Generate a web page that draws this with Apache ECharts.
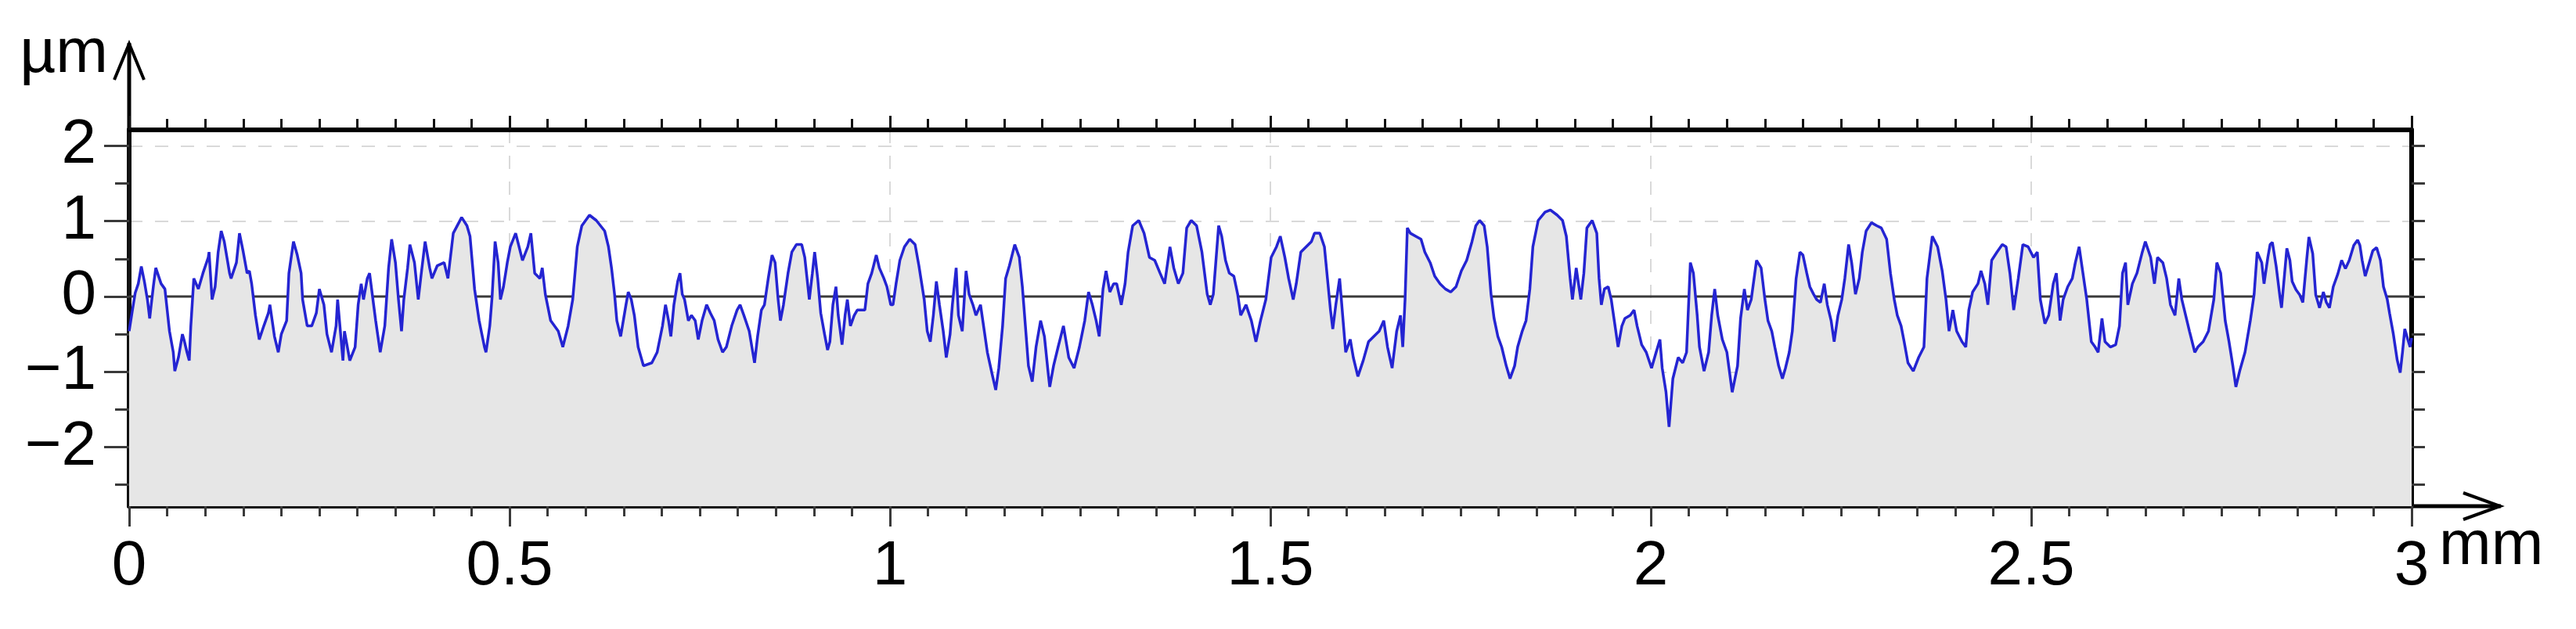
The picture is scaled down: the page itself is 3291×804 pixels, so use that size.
<!DOCTYPE html>
<html>
<head>
<meta charset="utf-8">
<title>Surface profile</title>
<script src="https://cdn.jsdelivr.net/npm/echarts@6.0.0/dist/echarts.min.js"></script>
<style>
  html, body { margin: 0; padding: 0; background: #fff; }
  #chart { width: 3291px; height: 804px; }
</style>
</head>
<body>
<div id="chart"></div>
<script>
// profile: [distance (mm), height (µm)]
const profilePoints = [
  [0.000,-0.46],[0.004,-0.20],[0.008,0.05],[0.012,0.17],[0.016,0.40],[0.020,0.20],[0.024,-0.04],[0.027,-0.29],[0.029,-0.11],[0.032,0.15],
  [0.035,0.38],[0.042,0.17],[0.047,0.10],[0.053,-0.46],[0.058,-0.74],[0.060,-0.99],[0.065,-0.80],[0.070,-0.50],[0.072,-0.57],[0.076,-0.74],
  [0.079,-0.85],[0.081,-0.40],[0.085,0.24],[0.088,0.17],[0.091,0.10],[0.097,0.31],[0.104,0.52],[0.105,0.59],[0.109,-0.04],[0.113,0.13],
  [0.117,0.59],[0.121,0.87],[0.125,0.73],[0.132,0.31],[0.134,0.24],[0.141,0.45],[0.145,0.84],[0.150,0.59],[0.155,0.31],[0.158,0.34],
  [0.161,0.17],[0.166,-0.25],[0.171,-0.57],[0.177,-0.39],[0.183,-0.22],[0.185,-0.11],[0.188,-0.32],[0.191,-0.53],[0.196,-0.74],[0.200,-0.50],
  [0.207,-0.32],[0.210,0.31],[0.216,0.73],[0.221,0.55],[0.226,0.31],[0.228,-0.04],[0.234,-0.39],[0.240,-0.39],[0.246,-0.22],[0.250,0.10],
  [0.256,-0.11],[0.260,-0.50],[0.266,-0.74],[0.272,-0.39],[0.274,-0.04],[0.281,-0.85],[0.283,-0.46],[0.290,-0.85],[0.297,-0.67],[0.301,-0.11],
  [0.305,0.17],[0.308,-0.04],[0.313,0.24],[0.316,0.31],[0.324,-0.32],[0.330,-0.74],[0.336,-0.39],[0.341,0.38],[0.345,0.76],[0.350,0.45],
  [0.354,-0.04],[0.358,-0.46],[0.361,-0.04],[0.366,0.38],[0.369,0.69],[0.375,0.45],[0.380,-0.04],[0.384,0.31],[0.389,0.73],[0.395,0.38],
  [0.398,0.24],[0.405,0.41],[0.414,0.45],[0.419,0.24],[0.426,0.84],[0.437,1.05],[0.444,0.94],[0.448,0.80],[0.454,0.10],[0.460,-0.32],
  [0.467,-0.67],[0.469,-0.74],[0.474,-0.39],[0.477,-0.01],[0.481,0.73],[0.485,0.45],[0.488,-0.04],[0.492,0.13],[0.497,0.45],[0.501,0.66],
  [0.508,0.84],[0.517,0.48],[0.524,0.66],[0.528,0.84],[0.533,0.31],[0.540,0.24],[0.543,0.38],[0.547,0.03],[0.554,-0.32],[0.559,-0.39],
  [0.564,-0.46],[0.570,-0.67],[0.577,-0.39],[0.583,-0.04],[0.589,0.66],[0.595,0.94],[0.605,1.08],[0.614,1.01],[0.625,0.87],[0.630,0.66],
  [0.634,0.38],[0.638,0.03],[0.641,-0.32],[0.646,-0.53],[0.653,-0.11],[0.656,0.06],[0.660,-0.04],[0.664,-0.25],[0.669,-0.67],[0.676,-0.92],
  [0.687,-0.88],[0.694,-0.74],[0.701,-0.39],
  [0.705,-0.11],[0.709,-0.32],[0.712,-0.53],[0.716,-0.11],[0.721,0.20],[0.724,0.31],[0.727,0.03],[0.730,-0.04],[0.735,-0.32],[0.739,-0.25],
  [0.744,-0.32],[0.748,-0.57],[0.753,-0.32],[0.759,-0.11],[0.764,-0.22],[0.769,-0.32],[0.774,-0.57],[0.780,-0.74],[0.785,-0.67],[0.792,-0.39],
  [0.799,-0.18],[0.803,-0.11],[0.808,-0.25],[0.815,-0.46],[0.822,-0.88],[0.826,-0.53],[0.831,-0.18],[0.835,-0.11],[0.840,0.24],[0.845,0.55],
  [0.849,0.45],[0.853,-0.04],[0.856,-0.32],[0.860,-0.11],[0.866,0.31],[0.871,0.59],[0.877,0.69],[0.884,0.69],[0.888,0.52],[0.894,-0.04],
  [0.898,0.31],[0.901,0.59],[0.905,0.24],[0.909,-0.22],[0.914,-0.50],[0.918,-0.71],[0.921,-0.60],[0.925,-0.11],[0.929,0.13],[0.932,-0.25],
  [0.937,-0.64],[0.941,-0.25],[0.944,-0.04],[0.948,-0.39],[0.953,-0.25],[0.957,-0.18],[0.962,-0.18],[0.967,-0.18],[0.971,0.17],[0.976,0.31],
  [0.982,0.55],[0.986,0.38],[0.992,0.24],[0.996,0.13],[1.001,-0.11],[1.004,-0.11],[1.008,0.17],[1.013,0.48],[1.019,0.66],[1.026,0.76],
  [1.033,0.69],[1.038,0.41],[1.045,-0.04],[1.049,-0.46],[1.053,-0.60],[1.057,-0.25],[1.061,0.20],[1.065,-0.11],[1.070,-0.46],[1.074,-0.81],
  [1.079,-0.50],[1.082,-0.11],[1.087,0.38],[1.090,-0.25],[1.095,-0.46],[1.100,0.34],[1.104,0.03],[1.109,-0.11],[1.113,-0.25],[1.119,-0.11],
  [1.124,-0.46],[1.128,-0.74],[1.134,-1.02],[1.139,-1.24],[1.143,-0.95],[1.148,-0.39],[1.152,0.24],[1.157,0.41],[1.164,0.69],[1.170,0.52],
  [1.174,0.13],[1.178,-0.39],[1.182,-0.92],[1.187,-1.13],[1.192,-0.67],[1.198,-0.32],[1.203,-0.53],[1.208,-1.02],[1.210,-1.20],[1.215,-0.92],
  [1.221,-0.67],[1.228,-0.39],[1.235,-0.81],[1.242,-0.95],[1.249,-0.67],[1.256,-0.32],[1.261,0.06],[1.266,-0.11],[1.271,-0.32],[1.275,-0.53],
  [1.280,0.10],[1.284,0.34],[1.289,0.06],[1.294,0.17],[1.298,0.17],[1.304,-0.11],[1.309,0.17],[1.313,0.59],[1.319,0.94],[1.327,1.01],
  [1.334,0.84],[1.341,0.52],[1.348,0.48],[1.355,0.31],[1.361,0.17],[1.368,0.66],[1.373,0.38],[1.379,0.17],[1.385,0.31],[1.390,0.91],
  [1.396,1.01],[1.403,0.94],[1.410,0.59],[1.417,0.03],[1.421,-0.11],
  [1.425,0.03],[1.432,0.94],[1.436,0.80],[1.441,0.48],[1.446,0.31],[1.452,0.27],[1.457,0.03],[1.461,-0.25],[1.468,-0.11],[1.475,-0.32],
  [1.481,-0.60],[1.487,-0.32],[1.494,-0.04],[1.501,0.52],[1.508,0.66],[1.513,0.80],[1.519,0.52],[1.524,0.24],[1.530,-0.04],[1.534,0.17],
  [1.540,0.59],[1.547,0.66],[1.554,0.73],[1.558,0.84],[1.565,0.84],[1.571,0.66],[1.575,0.24],[1.579,-0.18],[1.582,-0.43],[1.586,-0.11],
  [1.591,0.24],[1.595,-0.25],[1.599,-0.74],[1.605,-0.57],[1.609,-0.81],[1.615,-1.06],[1.622,-0.85],[1.629,-0.60],[1.636,-0.53],[1.643,-0.46],
  [1.649,-0.32],[1.654,-0.67],[1.660,-0.95],[1.666,-0.46],[1.671,-0.25],[1.674,-0.67],[1.677,-0.04],[1.680,0.91],[1.684,0.84],[1.691,0.80],
  [1.698,0.76],[1.703,0.59],[1.710,0.45],[1.716,0.27],[1.723,0.17],[1.730,0.10],[1.737,0.06],[1.744,0.13],[1.751,0.34],[1.758,0.48],
  [1.765,0.73],[1.770,0.94],[1.775,1.01],[1.781,0.94],[1.785,0.66],[1.790,0.03],[1.794,-0.29],[1.799,-0.53],[1.804,-0.67],[1.810,-0.92],
  [1.815,-1.09],[1.821,-0.92],[1.825,-0.67],[1.831,-0.46],[1.836,-0.32],[1.841,0.10],[1.845,0.66],[1.852,1.01],[1.861,1.12],[1.868,1.15],
  [1.877,1.08],[1.884,1.01],[1.889,0.80],[1.894,0.24],[1.897,-0.04],[1.902,0.38],[1.905,0.17],[1.908,-0.04],[1.912,0.31],[1.916,0.91],
  [1.923,1.01],[1.929,0.84],[1.932,0.24],[1.935,-0.11],[1.939,0.10],[1.944,0.13],[1.948,-0.04],[1.952,-0.32],[1.957,-0.67],[1.962,-0.39],
  [1.966,-0.29],[1.973,-0.25],[1.978,-0.18],[1.982,-0.39],[1.988,-0.64],[1.994,-0.74],[2.001,-0.95],[2.007,-0.74],[2.012,-0.57],[2.015,-0.95],
  [2.020,-1.27],[2.024,-1.73],[2.029,-1.09],[2.036,-0.81],[2.042,-0.88],[2.047,-0.74],[2.052,0.45],[2.056,0.31],[2.061,-0.25],[2.064,-0.67],
  [2.070,-0.99],[2.076,-0.74],[2.080,-0.25],[2.084,0.10],[2.088,-0.25],[2.094,-0.57],[2.100,-0.74],[2.107,-1.27],[2.114,-0.92],[2.118,-0.29],
  [2.123,0.10],[2.127,-0.18],[2.132,-0.04],[2.139,0.48],
  [2.145,0.38],[2.150,-0.04],[2.154,-0.32],[2.159,-0.46],[2.163,-0.67],[2.168,-0.92],[2.173,-1.09],[2.177,-0.95],[2.182,-0.74],[2.186,-0.46],
  [2.191,0.24],[2.196,0.59],[2.200,0.55],[2.205,0.31],[2.209,0.13],[2.214,0.03],[2.218,-0.04],[2.223,-0.08],[2.228,0.17],[2.232,-0.11],
  [2.237,-0.32],[2.241,-0.60],[2.246,-0.25],[2.251,-0.04],[2.255,0.24],[2.260,0.69],[2.264,0.45],[2.269,0.03],[2.274,0.24],[2.278,0.59],
  [2.283,0.87],[2.290,0.98],[2.297,0.94],[2.303,0.91],[2.310,0.76],[2.315,0.31],[2.320,-0.04],[2.324,-0.25],[2.329,-0.39],[2.333,-0.60],
  [2.338,-0.88],[2.345,-0.99],[2.352,-0.81],[2.359,-0.67],[2.363,0.24],[2.370,0.80],[2.377,0.66],[2.383,0.34],[2.388,-0.04],[2.392,-0.46],
  [2.397,-0.18],[2.402,-0.46],[2.409,-0.60],[2.414,-0.67],[2.418,-0.18],[2.423,0.06],[2.430,0.17],[2.434,0.34],[2.439,0.17],[2.443,-0.11],
  [2.448,0.48],[2.455,0.59],[2.462,0.69],[2.467,0.66],[2.472,0.31],[2.477,-0.18],[2.483,0.24],[2.489,0.69],[2.496,0.66],[2.503,0.52],
  [2.508,0.59],[2.512,-0.04],[2.518,-0.36],[2.523,-0.25],[2.529,0.17],[2.533,0.31],[2.538,-0.32],[2.542,-0.04],[2.548,0.13],[2.554,0.24],
  [2.558,0.45],[2.563,0.66],[2.568,0.31],[2.573,-0.04],[2.579,-0.60],[2.584,-0.67],[2.588,-0.74],[2.593,-0.29],[2.597,-0.60],[2.604,-0.67],
  [2.611,-0.64],[2.616,-0.39],[2.620,0.31],[2.624,0.45],[2.627,-0.11],[2.633,0.17],[2.639,0.31],[2.646,0.59],[2.650,0.73],[2.657,0.52],
  [2.662,0.17],[2.666,0.52],[2.673,0.45],[2.678,0.24],[2.683,-0.11],[2.689,-0.25],[2.694,0.24],[2.698,-0.04],[2.703,-0.25],[2.708,-0.46],
  [2.715,-0.74],[2.719,-0.67],[2.726,-0.60],[2.733,-0.46],[2.740,-0.04],[2.744,0.45],[2.749,0.31],[2.755,-0.32],[2.760,-0.60],[2.765,-0.92],
  [2.769,-1.20],[2.774,-0.99],[2.781,-0.74],[2.788,-0.32],[2.793,0.03],[2.797,0.59],[2.803,0.45],[2.806,0.17],[2.811,0.52],
  [2.814,0.69],[2.817,0.72],[2.822,0.40],[2.827,-0.01],[2.829,-0.15],[2.833,0.30],[2.836,0.64],[2.840,0.48],[2.843,0.20],[2.848,0.09],
  [2.853,0.02],[2.857,-0.08],[2.862,0.48],[2.865,0.79],[2.870,0.57],[2.874,0.02],[2.879,-0.15],[2.884,0.06],[2.888,-0.08],[2.892,-0.15],
  [2.897,0.13],[2.903,0.30],[2.908,0.48],[2.913,0.37],[2.918,0.48],[2.924,0.68],[2.929,0.75],[2.932,0.68],[2.935,0.48],[2.939,0.27],
  [2.944,0.44],[2.949,0.61],[2.954,0.65],[2.959,0.48],[2.963,0.13],[2.968,-0.04],[2.971,-0.22],[2.976,-0.50],[2.981,-0.84],[2.985,-1.01],
  [2.988,-0.74],[2.991,-0.43],[2.995,-0.57],[2.998,-0.67],[3.000,-0.55]
];

const xRange = [0, 3];
const yRange = [-2.783, 2.212];
const xLabelInterval = 0.5;
const yLabelValues = [-2, -1, 0, 1, 2];
const rightTickValues = [-2.5, -2, -1.5, -1, -0.5, 0, 0.5, 1, 1.5, 2];
const xUnit = 'mm';
const yUnit = 'µm';

const W = 3291, H = 804;
const grid = { left: 165, right: 210, top: 166, bottom: 157 };
const plotRight = W - grid.right;
const plotBottom = H - grid.bottom;

const font = '"Liberation Sans", Arial, sans-serif';
const tickStyle = { color: '#3a3a3a', width: 3 };
const dashed = { color: '#d9d9d9', width: 2, type: [17, 16] };

const chart = echarts.init(document.getElementById('chart'));

const minus = v => (v < 0 ? '\u2212' + Math.abs(v) : String(v));

chart.setOption({
  animation: false,
  backgroundColor: '#fff',
  grid: { left: grid.left, right: grid.right, top: grid.top, bottom: grid.bottom, containLabel: false },
  xAxis: [
    {
      type: 'value',
      position: 'bottom',
      min: xRange[0],
      max: xRange[1],
      interval: xLabelInterval,
      name: xUnit,
      nameLocation: 'end',
      nameGap: 35,
      nameTextStyle: { fontSize: 80, fontFamily: font, color: '#000', align: 'left', verticalAlign: 'top', padding: [12, 0, 0, 0] },
      axisLine: { onZero: false, lineStyle: { color: '#111', width: 6 } },
      axisTick: { length: 26, lineStyle: tickStyle },
      minorTick: { show: true, splitNumber: 10, length: 13, lineStyle: tickStyle },
      axisLabel: { fontSize: 80, fontFamily: font, color: '#000', margin: 38 },
      splitLine: { show: true, lineStyle: dashed }
    },
    {
      type: 'value',
      position: 'top',
      min: xRange[0],
      max: xRange[1],
      interval: xLabelInterval,
      axisLine: { onZero: false, lineStyle: { color: '#000', width: 6 } },
      axisTick: { length: 18, lineStyle: { color: '#111', width: 3 } },
      minorTick: { show: true, splitNumber: 10, length: 14, lineStyle: { color: '#111', width: 3 } },
      axisLabel: { show: false },
      splitLine: { show: false }
    }
  ],
  yAxis: [
    {
      type: 'value',
      position: 'left',
      min: yRange[0],
      max: yRange[1],
      name: yUnit,
      nameLocation: 'end',
      nameGap: 96,
      nameTextStyle: { fontSize: 80, fontFamily: font, color: '#000', align: 'right', verticalAlign: 'middle', padding: [0, 27, 0, 0] },
      axisLine: { show: true, onZero: false, lineStyle: { color: '#111', width: 6 } },
      axisTick: { show: true, length: 32, customValues: yLabelValues, lineStyle: tickStyle },
      minorTick: { show: true, splitNumber: 2, length: 18, lineStyle: tickStyle },
      axisLabel: { fontSize: 80, fontFamily: font, color: '#000', margin: 42, customValues: yLabelValues, formatter: minus },
      splitLine: { show: true, lineStyle: dashed }
    },
    {
      type: 'value',
      position: 'right',
      min: yRange[0],
      max: yRange[1],
      axisLine: { show: true, onZero: false, lineStyle: { color: '#000', width: 6 } },
      axisTick: { show: true, length: 17, customValues: rightTickValues, lineStyle: tickStyle },
      axisLabel: { show: false },
      splitLine: { show: false }
    }
  ],
  graphic: [
    // arrow heads past the plot frame
    { type: 'polyline', silent: true, shape: { points: [[grid.left, grid.top], [grid.left, 55]] }, style: { stroke: '#000', lineWidth: 5, fill: null } },
    { type: 'polyline', silent: true, shape: { points: [[grid.left - 19, 102], [grid.left, 56], [grid.left + 19, 102]] }, style: { stroke: '#000', lineWidth: 4, fill: null } },
    { type: 'polyline', silent: true, shape: { points: [[plotRight, plotBottom], [3195, plotBottom]] }, style: { stroke: '#000', lineWidth: 5, fill: null } },
    { type: 'polyline', silent: true, shape: { points: [[3147, plotBottom - 17], [3194, plotBottom], [3147, plotBottom + 17]] }, style: { stroke: '#000', lineWidth: 4, fill: null } }
  ],
  series: [
    {
      name: 'zero',
      type: 'line',
      z: 1,
      silent: true,
      symbol: 'none',
      data: [[xRange[0], 0], [xRange[1], 0]],
      lineStyle: { color: '#3a3a3a', width: 3 }
    },
    {
      name: 'profile',
      type: 'line',
      z: 2,
      symbol: 'none',
      data: profilePoints,
      lineStyle: { color: '#2424d2', width: 3.5 },
      areaStyle: { color: '#e6e6e6', opacity: 1, origin: 'start' }
    }
  ]
});
</script>
</body>
</html>
